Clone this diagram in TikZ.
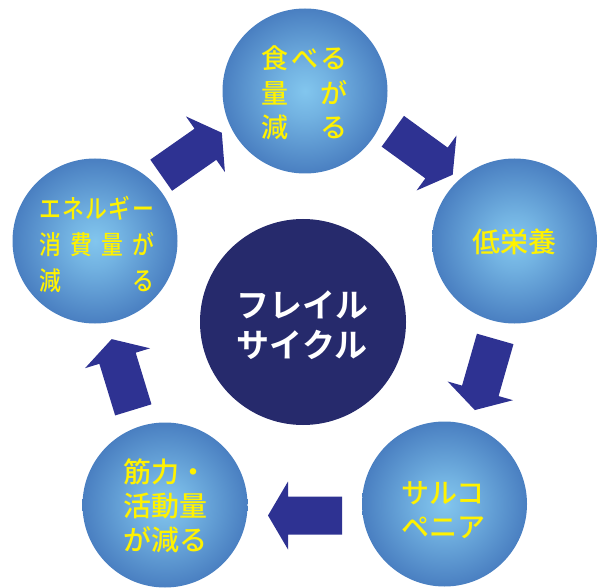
\documentclass[tikz,border=0pt]{standalone}
\usepackage{graphicx}
\usepackage{fontspec}
\newfontfamily\jp{Noto Sans CJK JP Medium}
\newfontfamily\jpb{Noto Sans CJK JP Bold}
\definecolor{ballin}{RGB}{130,198,238}
\definecolor{ballout}{RGB}{52,100,176}
\definecolor{arrowc}{RGB}{46,50,146}
\definecolor{corec}{RGB}{38,42,108}
\definecolor{txty}{RGB}{255,242,0}
\pgfdeclareradialshading{ball}{\pgfpoint{0bp}{0bp}}{color(0bp)=(ballin); color(8bp)=(ballin!80!ballout); color(34bp)=(ballout); color(50bp)=(ballout)}
\tikzset{
  sphere/.style={circle, minimum size=165pt, inner sep=0pt, shading=ball},
  core/.style={circle, minimum size=206pt, inner sep=0pt, fill=corec},
  ytext/.style={text=txty, align=center, inner sep=0pt},
  blockarrow/.style={fill=arrowc}
}
\newcommand{\sq}[1]{\scalebox{0.84}[1]{#1}}
\newcommand{\blockarr}[3]{%
  \fill[blockarrow, shift={(#1,#2)}, rotate=#3]
    (-37,-19) -- (17,-19) -- (17,-34) -- (37,0) -- (17,34) -- (17,19) -- (-37,19) -- cycle;}
\begin{document}
\begin{tikzpicture}[x=1pt,y=1pt]
\useasboundingbox (0,0) rectangle (599,587);
% spheres
\node[sphere] (top) at (305,496) {};
\node[sphere] (left) at (95,346) {};
\node[sphere] (right) at (514.5,346) {};
\node[sphere] (bl) at (165,82) {};
\node[sphere] (br) at (444.5,83) {};
\node[core] (core) at (303,265) {};
% arrows
\blockarr{191.5}{433}{35}
\blockarr{422.75}{434}{-36}
\blockarr{485}{212.5}{-106}
\blockarr{305}{71.5}{180}
\blockarr{122.5}{212.5}{107}
% texts
\node[ytext, font=\jp\fontsize{27}{34.75}\selectfont] (ttop) at (304.5,494.25)
  {\makebox[87pt][s]{食\hfill べ\hfill る}\\ \makebox[87pt][s]{量\hfill が}\\ \makebox[87pt][s]{減\hfill る}};
\node[ytext, font=\jp\fontsize{26}{36}\selectfont] (tleft) at (96.5,343)
  {\makebox[115pt][s]{\sq{エ}\hfill \sq{ネ}\hfill \sq{ル}\hfill \sq{ギ}\hfill \sq{ー}}\\ \makebox[115pt][s]{\sq{消}\hfill \sq{費}\hfill \sq{量}\hfill \sq{が}}\\ \makebox[115pt][s]{\sq{減}\hfill \sq{る}}};
\node[ytext, font=\jp\fontsize{28}{34}\selectfont] (tright) at (514.5,345) {低栄養};
\node[ytext, align=left, font=\jp\fontsize{28}{34}\selectfont] (tbl) at (165,81) {筋力・\\活動量\\が減る};
\node[ytext, align=left, font=\jp\fontsize{28}{34}\selectfont] (tbr) at (443.5,77) {サルコ\\ペニア};
\node[text=white, align=center, inner sep=0pt, font=\jpb\fontsize{33}{40}\selectfont] (tcore) at (302,262) {フレイル\\サイクル};
\end{tikzpicture}
\end{document}
